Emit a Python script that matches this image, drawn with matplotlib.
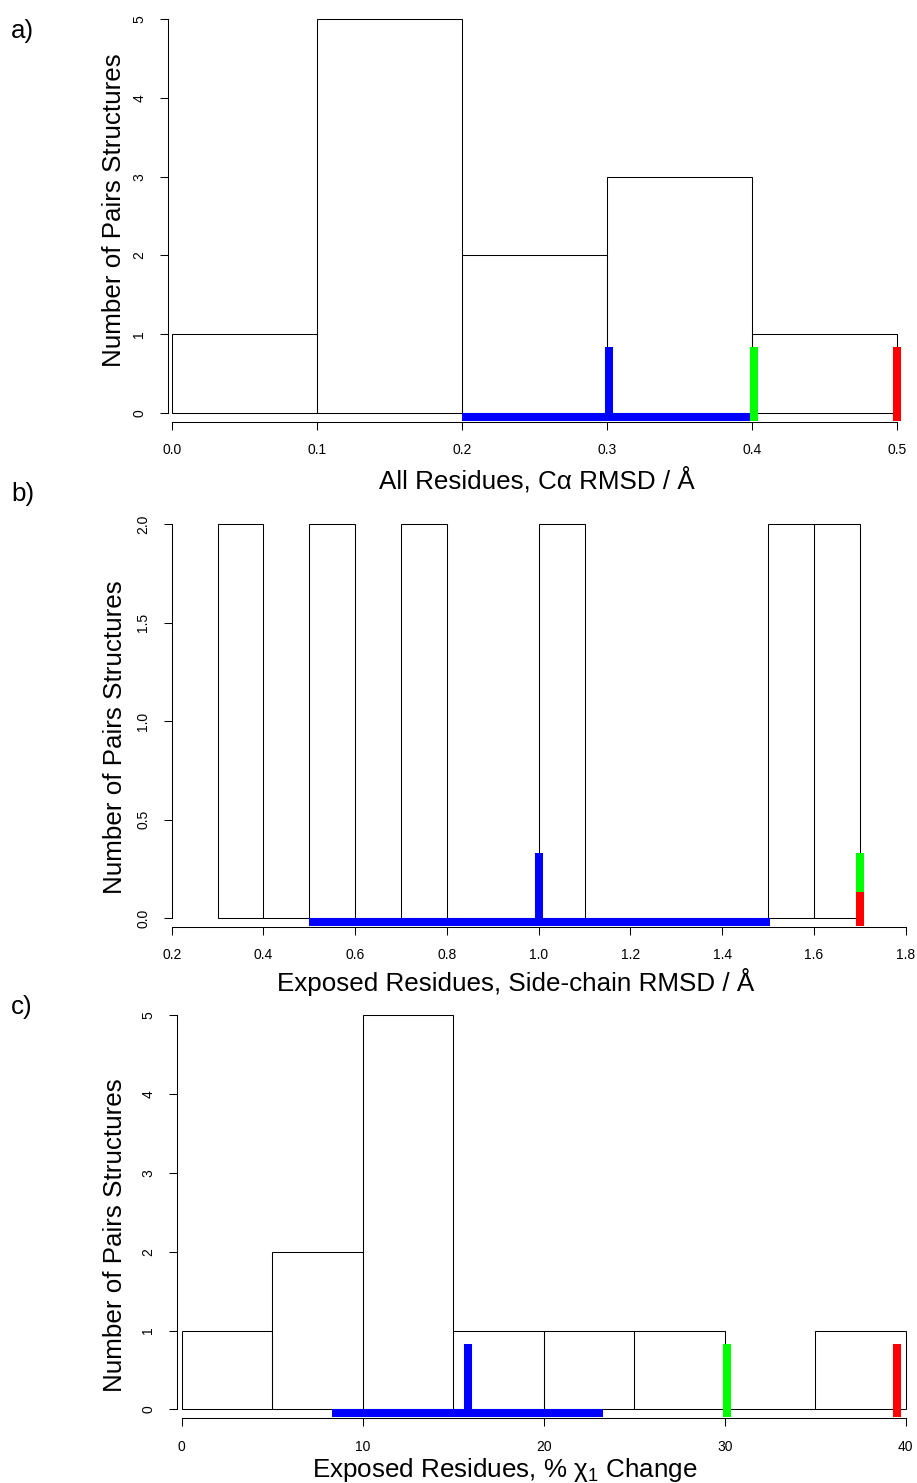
import numpy as np
import matplotlib
matplotlib.use("Agg")
import matplotlib.pyplot as plt

plt.rcParams['font.family'] = ['Liberation Sans', 'DejaVu Sans']
plt.rcParams['mathtext.fontset'] = 'custom'
plt.rcParams['mathtext.rm'] = 'Liberation Sans'
plt.rcParams['mathtext.it'] = 'Liberation Sans'

# ---- data ----
# a) all residues, C-alpha RMSD
edges_a = [0.0, 0.1, 0.2, 0.3, 0.4, 0.5]
counts_a = [1, 5, 2, 3, 1]
range_a = [0.2, 0.4]
mid_a = 0.301
green_a = 0.401
red_a = 0.5

# b) exposed residues, side-chain RMSD
edges_b = [0.3, 0.4, 0.5, 0.6, 0.7, 0.8, 0.9, 1.0, 1.1, 1.2, 1.3, 1.4, 1.5, 1.6, 1.7]
counts_b = [2, 0, 2, 0, 2, 0, 0, 2, 0, 0, 0, 0, 2, 2]
range_b = [0.5, 1.505]
mid_b = 1.0
green_b = 1.701
red_b = 1.701

# c) exposed residues, % chi1 change
edges_c = [0, 5, 10, 15, 20, 25, 30, 35, 40]
counts_c = [1, 2, 5, 1, 1, 1, 0, 1]
range_c = [8.3, 23.3]
mid_c = 15.8
green_c = 30.1
red_c = 39.5

xticks_a = [0.0, 0.1, 0.2, 0.3, 0.4, 0.5]
xticks_b = [0.2, 0.4, 0.6, 0.8, 1.0, 1.2, 1.4, 1.6, 1.8]
xticks_c = [0, 10, 20, 30, 40]
yticks_a = [0, 1, 2, 3, 4, 5]
yticks_b = [0.0, 0.5, 1.0, 1.5, 2.0]
yticks_c = [0, 1, 2, 3, 4, 5]

ylab = "Number of Pairs Structures"
xlab_a = "All Residues, C\u03b1 RMSD / \u00c5"
xlab_b = "Exposed Residues, Side-chain RMSD / \u00c5"
xlab_c = "Exposed Residues, % \u03c7$_1$ Change"

W, H = 917, 1483
fig = plt.figure(figsize=(W / 100, H / 100), dpi=100)


def rect(left, top, right, bottom):
    return [left / W, 1 - bottom / H, (right - left) / W, (bottom - top) / H]


def panel(box, xlim, ylim, edges, counts, xticks, yticks, xfmt, yfmt,
          rng, mid, green, red, red_frac):
    ax = fig.add_axes(rect(*box))
    ax.bar(edges[:-1], counts, width=np.diff(edges), align='edge',
           fill=False, edgecolor='black', linewidth=0.75)
    ymax = yticks[-1]
    lw = 5.8
    ax.plot(rng, [-0.01 * ymax] * 2, color='#0000ff', lw=lw, solid_capstyle='butt')
    ax.plot([mid, mid], [-0.02 * ymax, ymax / 6], color='#0000ff', lw=lw, solid_capstyle='butt')
    ax.plot([green, green], [-0.02 * ymax, ymax / 6], color='#00ff00', lw=lw, solid_capstyle='butt')
    ax.plot([red, red], [-0.02 * ymax, ymax * red_frac], color='#ff0000', lw=lw, solid_capstyle='butt')
    ax.set_xlim(*xlim)
    ax.set_ylim(*ylim)
    for s in ['top', 'right']:
        ax.spines[s].set_visible(False)
    ax.spines['left'].set_bounds(yticks[0], yticks[-1])
    ax.spines['bottom'].set_bounds(xticks[0], xticks[-1])
    ax.spines['left'].set_linewidth(0.75)
    ax.spines['bottom'].set_linewidth(0.75)
    ax.set_xticks(xticks)
    ax.set_xticklabels([xfmt % v for v in xticks])
    ax.set_yticks(yticks)
    ax.set_yticklabels([yfmt % v for v in yticks], rotation=90, va='center')
    ax.tick_params(direction='out', length=5.8, width=0.75, labelsize=10, pad=9.5)
    ax.patch.set_visible(False)
    return ax


panel((167.7, 15, 910, 421.7), (-0.0032, 0.5088), (-0.114, 5.055),
      edges_a, counts_a, xticks_a, yticks_a, '%.1f', '%d',
      range_a, mid_a, green_a, red_a, 1 / 6)
panel((171.7, 520, 910, 926.7), (0.2, 1.8094), (-0.0426, 2.02),
      edges_b, counts_b, xticks_b, yticks_b, '%.1f', '%.1f',
      range_b, mid_b, green_b, red_b, 0.0675)
panel((176.7, 1011, 910, 1418.3), (-0.276, 40.238), (-0.114, 5.055),
      edges_c, counts_c, xticks_c, yticks_c, '%d', '%d',
      range_c, mid_c, green_c, red_c, 1 / 6)

fs = 18.7
for (x, y), t in zip([(114, 210), (115, 737), (115, 1235)], [ylab] * 3):
    fig.text(x / W, 1 - y / H, t, rotation=90, ha='center', va='center', fontsize=fs)
for (x, y), t in zip([(537, 489), (516, 990.7), (505, 1476.7)], [xlab_a, xlab_b, xlab_c]):
    fig.text(x / W, 1 - y / H, t, ha='center', va='baseline', fontsize=fs)
for y, t in zip([31, 494, 1007], ['a)', 'b)', 'c)']):
    fig.text(11 / W, 1 - y / H, t, ha='left', va='center', fontsize=fs)

fig.savefig("out.png", dpi=100)
